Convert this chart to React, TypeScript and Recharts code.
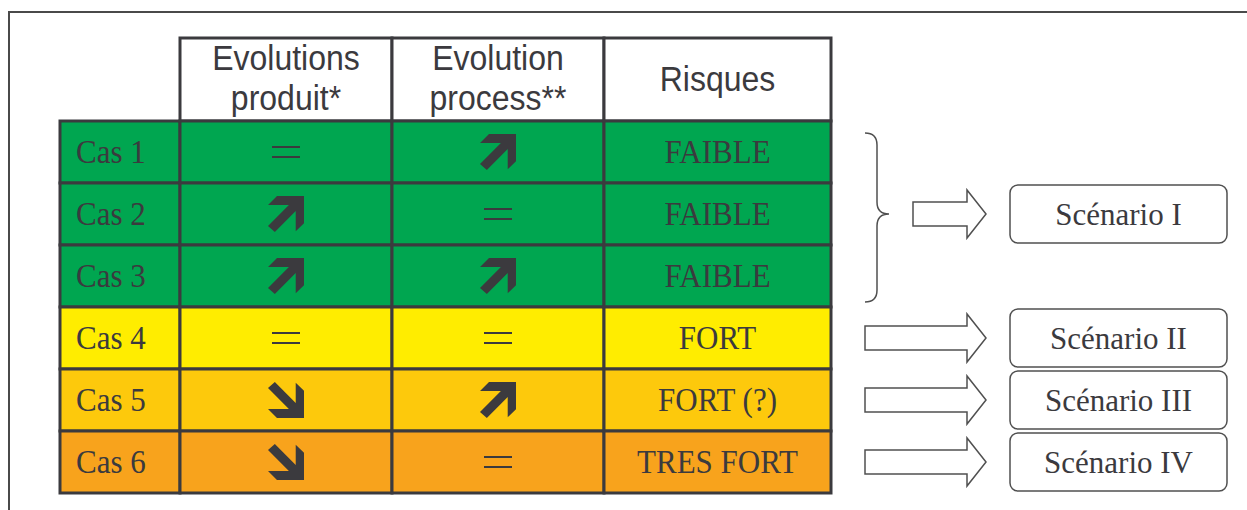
import React from 'react';
import { BarChart, Bar, XAxis, YAxis } from 'recharts';

// 'up' = flèche montante, 'down' = flèche descendante, 'eq' = signe égal
const cases = ['Cas 1', 'Cas 2', 'Cas 3', 'Cas 4', 'Cas 5', 'Cas 6'];
const evolProduit = ['eq', 'up', 'up', 'eq', 'down', 'down'];
const evolProcess = ['up', 'eq', 'up', 'eq', 'up', 'eq'];
const risques = ['FAIBLE', 'FAIBLE', 'FAIBLE', 'FORT', 'FORT (?)', 'TRES FORT'];
const rowColors = ['#00a650', '#00a650', '#00a650', '#ffed00', '#fdc90c', '#f8a31c'];
const headers = [[], ['Evolutions', 'produit*'], ['Evolution', 'process**'], ['Risques']];
const scenarios = ['Scénario I', 'Scénario II', 'Scénario III', 'Scénario IV'];
const scenarioOfCase = [0, 0, 0, 1, 2, 3];

// largeurs relatives des colonnes du tableau
const colWidths = [120, 212, 212, 227];

const INK = '#3b3a3e';
const LINE = '#505050';
const SERIF = '"Liberation Serif", "Times New Roman", serif';
const SANS = '"Liberation Sans", Arial, sans-serif';
const HEADER_H = 83;

const data = cases.map((cas, i) => ({
  cas,
  produit: evolProduit[i],
  process: evolProcess[i],
  risque: risques[i],
  color: rowColors[i],
  scenario: scenarioOfCase[i],
  c0: colWidths[0],
  c1: colWidths[1],
  c2: colWidths[2],
  c3: colWidths[3],
}));

// flèche épaisse orientée bas-droite, coordonnées unitaires
const ARROW_DOWN = [
  [0.19, 0], [0.77, 0.58], [0.77, 0.02], [1, 0.24], [1, 1],
  [0.25, 1], [0, 0.75], [0.58, 0.75], [0, 0.17],
];

function Glyph({ kind, cx, cy }: { kind: string; cx: number; cy: number }) {
  if (kind === 'eq') {
    return (
      <g fill={INK}>
        <rect x={cx - 14} y={cy - 6} width={28} height={2} />
        <rect x={cx - 14} y={cy + 4} width={28} height={2} />
      </g>
    );
  }
  const s = 36;
  const pts = ARROW_DOWN.map(([u, v]) => {
    const vv = kind === 'up' ? 1 - v : v;
    return `${cx - s / 2 + u * s},${cy - s / 2 + vv * s}`;
  }).join(' ');
  return <polygon points={pts} fill={INK} />;
}

function Label({ x, y, text, anchor = 'middle', family = SERIF, size = 31, sy = 1.08 }: any) {
  return (
    <text
      x={0}
      y={0}
      transform={`translate(${x},${y}) scale(1,${sy})`}
      textAnchor={anchor}
      fontFamily={family}
      fontSize={size}
      fill={INK}
    >
      {text}
    </text>
  );
}

function Scenario({ xr, top, rowH, sc }: { xr: number; top: number; rowH: number; sc: number }) {
  const count = scenarioOfCase.filter(s => s === sc).length;
  const gh = rowH * count;
  const cy = top + gh / 2;
  const bx = xr + 34;
  const shaftStart = count > 1 ? xr + 82 : xr + 34;
  const headX = xr + 136;
  const tipX = xr + 155;
  const arrow = [
    [shaftStart, cy - 12], [headX, cy - 12], [headX, cy - 24], [tipX, cy],
    [headX, cy + 24], [headX, cy + 12], [shaftStart, cy + 12],
  ].map(p => p.join(',')).join(' ');
  const boxX = xr + 179;
  const boxH = 58;
  return (
    <g>
      {count > 1 && (
        <path
          d={`M ${bx} ${top + 12} Q ${bx + 12} ${top + 12} ${bx + 12} ${top + 24}
              L ${bx + 12} ${cy - 12} Q ${bx + 12} ${cy} ${bx + 24} ${cy}
              Q ${bx + 12} ${cy} ${bx + 12} ${cy + 12}
              L ${bx + 12} ${top + gh - 17} Q ${bx + 12} ${top + gh - 5} ${bx} ${top + gh - 5}`}
          fill="none"
          stroke={LINE}
          strokeWidth={1.5}
        />
      )}
      <polygon points={arrow} fill="#fff" stroke={LINE} strokeWidth={1.5} />
      <rect x={boxX} y={cy - boxH / 2} width={217} height={boxH} rx={8} fill="#fff" stroke={LINE} strokeWidth={1.5} />
      <Label x={boxX + 108.5} y={cy + 11} text={scenarios[sc]} sy={1.05} />
    </g>
  );
}

const cellShape = (col: number) => (props: any) => {
  const { x, y, width, height, payload, index } = props;
  const cx = x + width / 2;
  const cy = y + height / 2;
  const head = headers[col];
  let content: React.ReactNode = null;
  if (col === 0) content = <Label x={x + 16} y={cy + 11} text={payload.cas} anchor="start" />;
  if (col === 1) content = <Glyph kind={payload.produit} cx={cx} cy={cy} />;
  if (col === 2) content = <Glyph kind={payload.process} cx={cx} cy={cy} />;
  if (col === 3) content = <Label x={cx} y={cy + 11} text={payload.risque} />;
  const firstOfGroup = col === 3 && (index === 0 || scenarioOfCase[index - 1] !== payload.scenario);
  return (
    <g>
      {index === 0 && head.length > 0 && (
        <g>
          <rect x={x} y={y - HEADER_H} width={width} height={HEADER_H} fill="#fff" stroke={INK} strokeWidth={3} />
          {head.map((t, k) => (
            <Label
              key={k}
              x={cx}
              y={head.length === 1 ? y - HEADER_H + 53 : y - HEADER_H + 32 + k * 40}
              text={t}
              family={SANS}
              size={32}
            />
          ))}
        </g>
      )}
      <rect x={x} y={y} width={width} height={height} fill={payload.color} stroke={INK} strokeWidth={3} />
      {content}
      {firstOfGroup && <Scenario xr={x + width} top={y} rowH={height} sc={payload.scenario} />}
    </g>
  );
};

export default function App() {
  return (
    <div style={{ position: 'absolute', left: 0, top: 0, width: 1247, height: 510, background: '#fff' }}>
      <div
        style={{
          position: 'absolute',
          left: 8,
          top: 11,
          width: 1239,
          height: 499,
          borderTop: '2px solid #4a4a4a',
          borderLeft: '2px solid #4a4a4a',
          boxSizing: 'border-box',
        }}
      />
      <div style={{ position: 'absolute', left: 0, top: 0 }}>
        <BarChart
          width={1247}
          height={510}
          data={data}
          layout="vertical"
          barCategoryGap={0}
          barGap={0}
          margin={{ top: 121, right: 416, bottom: 17, left: 60 }}
        >
          <XAxis type="number" hide domain={[0, colWidths.reduce((a, b) => a + b, 0)]} />
          <YAxis type="category" dataKey="cas" hide />
          {[0, 1, 2, 3].map(c => (
            <Bar
              key={c}
              dataKey={`c${c}`}
              stackId="t"
              isAnimationActive={false}
              shape={cellShape(c)}
            />
          ))}
        </BarChart>
      </div>
    </div>
  );
}
